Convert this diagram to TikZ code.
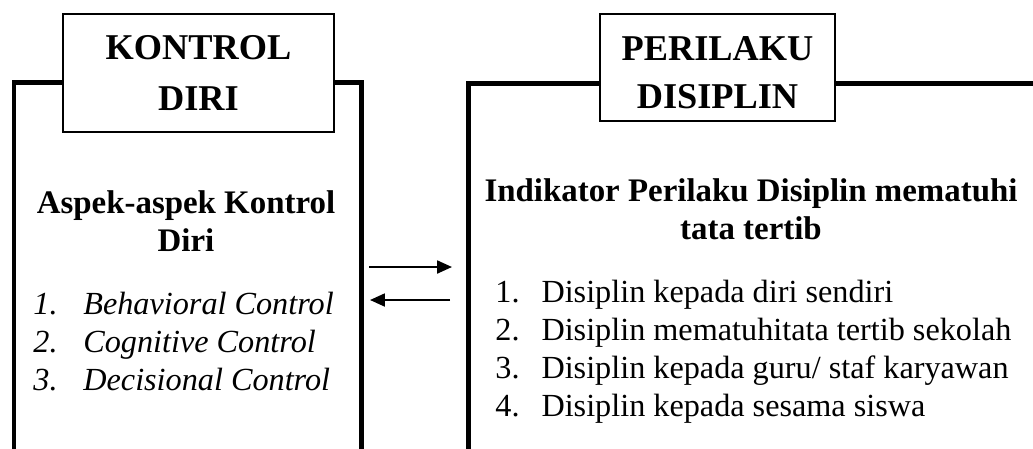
\documentclass[tikz,border=0pt]{standalone}
\usepackage{fontspec}
\setmainfont{Liberation Serif}
\usetikzlibrary{arrows.meta,positioning,calc}
\newlength{\unitpx}
\setlength{\unitpx}{0.01549cm}
\tikzset{
  title box/.style={draw,line width=0.6pt,align=center,inner sep=0pt,
    font=\fontsize{16}{22.9}\selectfont\bfseries},
  frame line/.style={line width=2.2pt},
  head text/.style={align=center,inner sep=0pt,
    font=\fontsize{14.5}{16.75}\selectfont\bfseries},
  list text/.style={inner sep=0pt,anchor=base west,
    font=\fontsize{14.2}{16.75}\selectfont},
  flow arrow/.style={-{Triangle[length=2.3mm,width=2mm]},line width=0.9pt}
}

\begin{document}
\begin{tikzpicture}[x=\unitpx,y=-\unitpx]
  \useasboundingbox (0,0) rectangle (1033,448);
  % titles
  \node[title box,minimum width={271*\unitpx},minimum height={118*\unitpx}]
    (kontrol) at (198.5,73) {KONTROL\\DIRI};
  \node[title box,minimum width={235*\unitpx},minimum height={107*\unitpx},
    font=\fontsize{16}{21.1}\selectfont\bfseries]
    (perilaku) at (717.5,67.5) {\rule{0pt}{15pt}PERILAKU\\DISIPLIN};
  % frames
  \draw[frame line] (kontrol.west |- 0,82) -- (14,82) -- (14,460);
  \draw[frame line] (kontrol.east |- 0,82) -- (361,82) -- (361,460);
  \draw[frame line] (perilaku.west |- 0,83) -- (468,83) -- (468,460);
  \draw[frame line] (perilaku.east |- 0,83) -- (1045,83);
  % left content
  \node[head text] (aspek) at (186,221) {Aspek-aspek Kontrol\\Diri};
  \node[list text] (aspeklist) at (33,314) {\itshape
    \begin{tabular}[t]{@{}p{22pt}@{}l@{}}
      1. & Behavioral Control\\
      2. & Cognitive Control\\
      3. & Decisional Control
    \end{tabular}};
  % right content
  \node[head text] (indikator) at (751,209) {Indikator Perilaku Disiplin mematuhi\\tata tertib};
  \node[list text] (indikatorlist) at (495,302) {%
    \begin{tabular}[t]{@{}p{20.3pt}@{}l@{}}
      1. & Disiplin kepada diri sendiri\\
      2. & Disiplin mematuhitata tertib sekolah\\
      3. & Disiplin kepada guru/ staf karyawan\\
      4. & Disiplin kepada sesama siswa
    \end{tabular}};
  % arrows
  \coordinate (go1) at (369,267);
  \coordinate (go2) at (452,267);
  \coordinate (back1) at (450,300);
  \coordinate (back2) at (370,300);
  \draw[flow arrow] (go1) -- (go2);
  \draw[flow arrow] (back1) -- (back2);
\end{tikzpicture}
\end{document}
